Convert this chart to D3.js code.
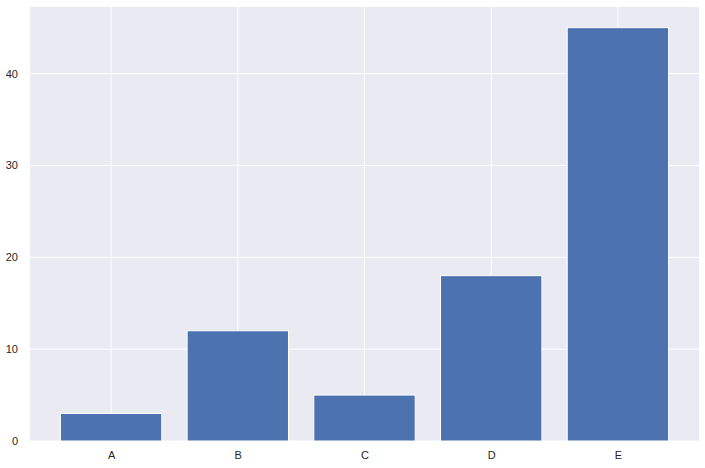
<!DOCTYPE html>
<html><head><meta charset="utf-8">
<script src="https://cdn.jsdelivr.net/npm/d3@7"></script>
<style>body{margin:0;background:#fff;} text{font-family:"Liberation Sans",Arial,sans-serif;}</style>
</head><body>
<svg id="c" width="705" height="468"></svg>
<script>
const categories = ["A","B","C","D","E"];
const values = [3,12,5,18,45];
const yTicks = [0,10,20,30,40];

const svg = d3.select("#c");
const L = 30, R = 699, T = 7, B = 441;
const barW = 0.8;
const x = d3.scaleLinear().domain([-0.5 - 0.14, categories.length - 0.5 + 0.14]).range([L, R]);
const y = d3.scaleLinear().domain([0, d3.max(values) * 1.05]).range([B, T]);

svg.append("rect").attr("x", L).attr("y", T).attr("width", R - L).attr("height", B - T).attr("fill", "#eaeaf2");

const g = svg.append("g");
g.selectAll("line.gy").data(yTicks).join("line")
  .attr("x1", L).attr("x2", R).attr("y1", d => y(d)).attr("y2", d => y(d))
  .attr("stroke", "#fff").attr("stroke-width", 1);
g.selectAll("line.gx").data(categories).join("line")
  .attr("x1", (d, i) => x(i)).attr("x2", (d, i) => x(i)).attr("y1", T).attr("y2", B)
  .attr("stroke", "#fff").attr("stroke-width", 1);

svg.selectAll("rect.bar").data(values).join("rect")
  .attr("class", "bar")
  .attr("x", (d, i) => x(i - barW / 2))
  .attr("width", (d, i) => x(i + barW / 2) - x(i - barW / 2))
  .attr("y", d => y(d))
  .attr("height", d => y(0) - y(d))
  .attr("fill", "#4c72b0").attr("stroke", "#fff").attr("stroke-width", 1);

const xAxis = d3.axisBottom(x).tickValues(d3.range(categories.length)).tickFormat(i => categories[i]).tickSize(0).tickPadding(10);
svg.append("g").attr("transform", `translate(0,${B})`).call(xAxis)
  .call(a => a.select(".domain").remove())
  .selectAll("text").attr("font-size", 11).attr("fill", "#262626").attr("font-family", '"Liberation Sans",Arial,sans-serif');

const yAxis = d3.axisLeft(y).tickValues(yTicks).tickFormat(d3.format("d")).tickSize(0).tickPadding(12);
svg.append("g").attr("transform", `translate(${L},0)`).call(yAxis)
  .call(a => a.select(".domain").remove())
  .selectAll("text").attr("font-size", 11).attr("fill", "#262626").attr("font-family", '"Liberation Sans",Arial,sans-serif');
</script>
</body></html>
